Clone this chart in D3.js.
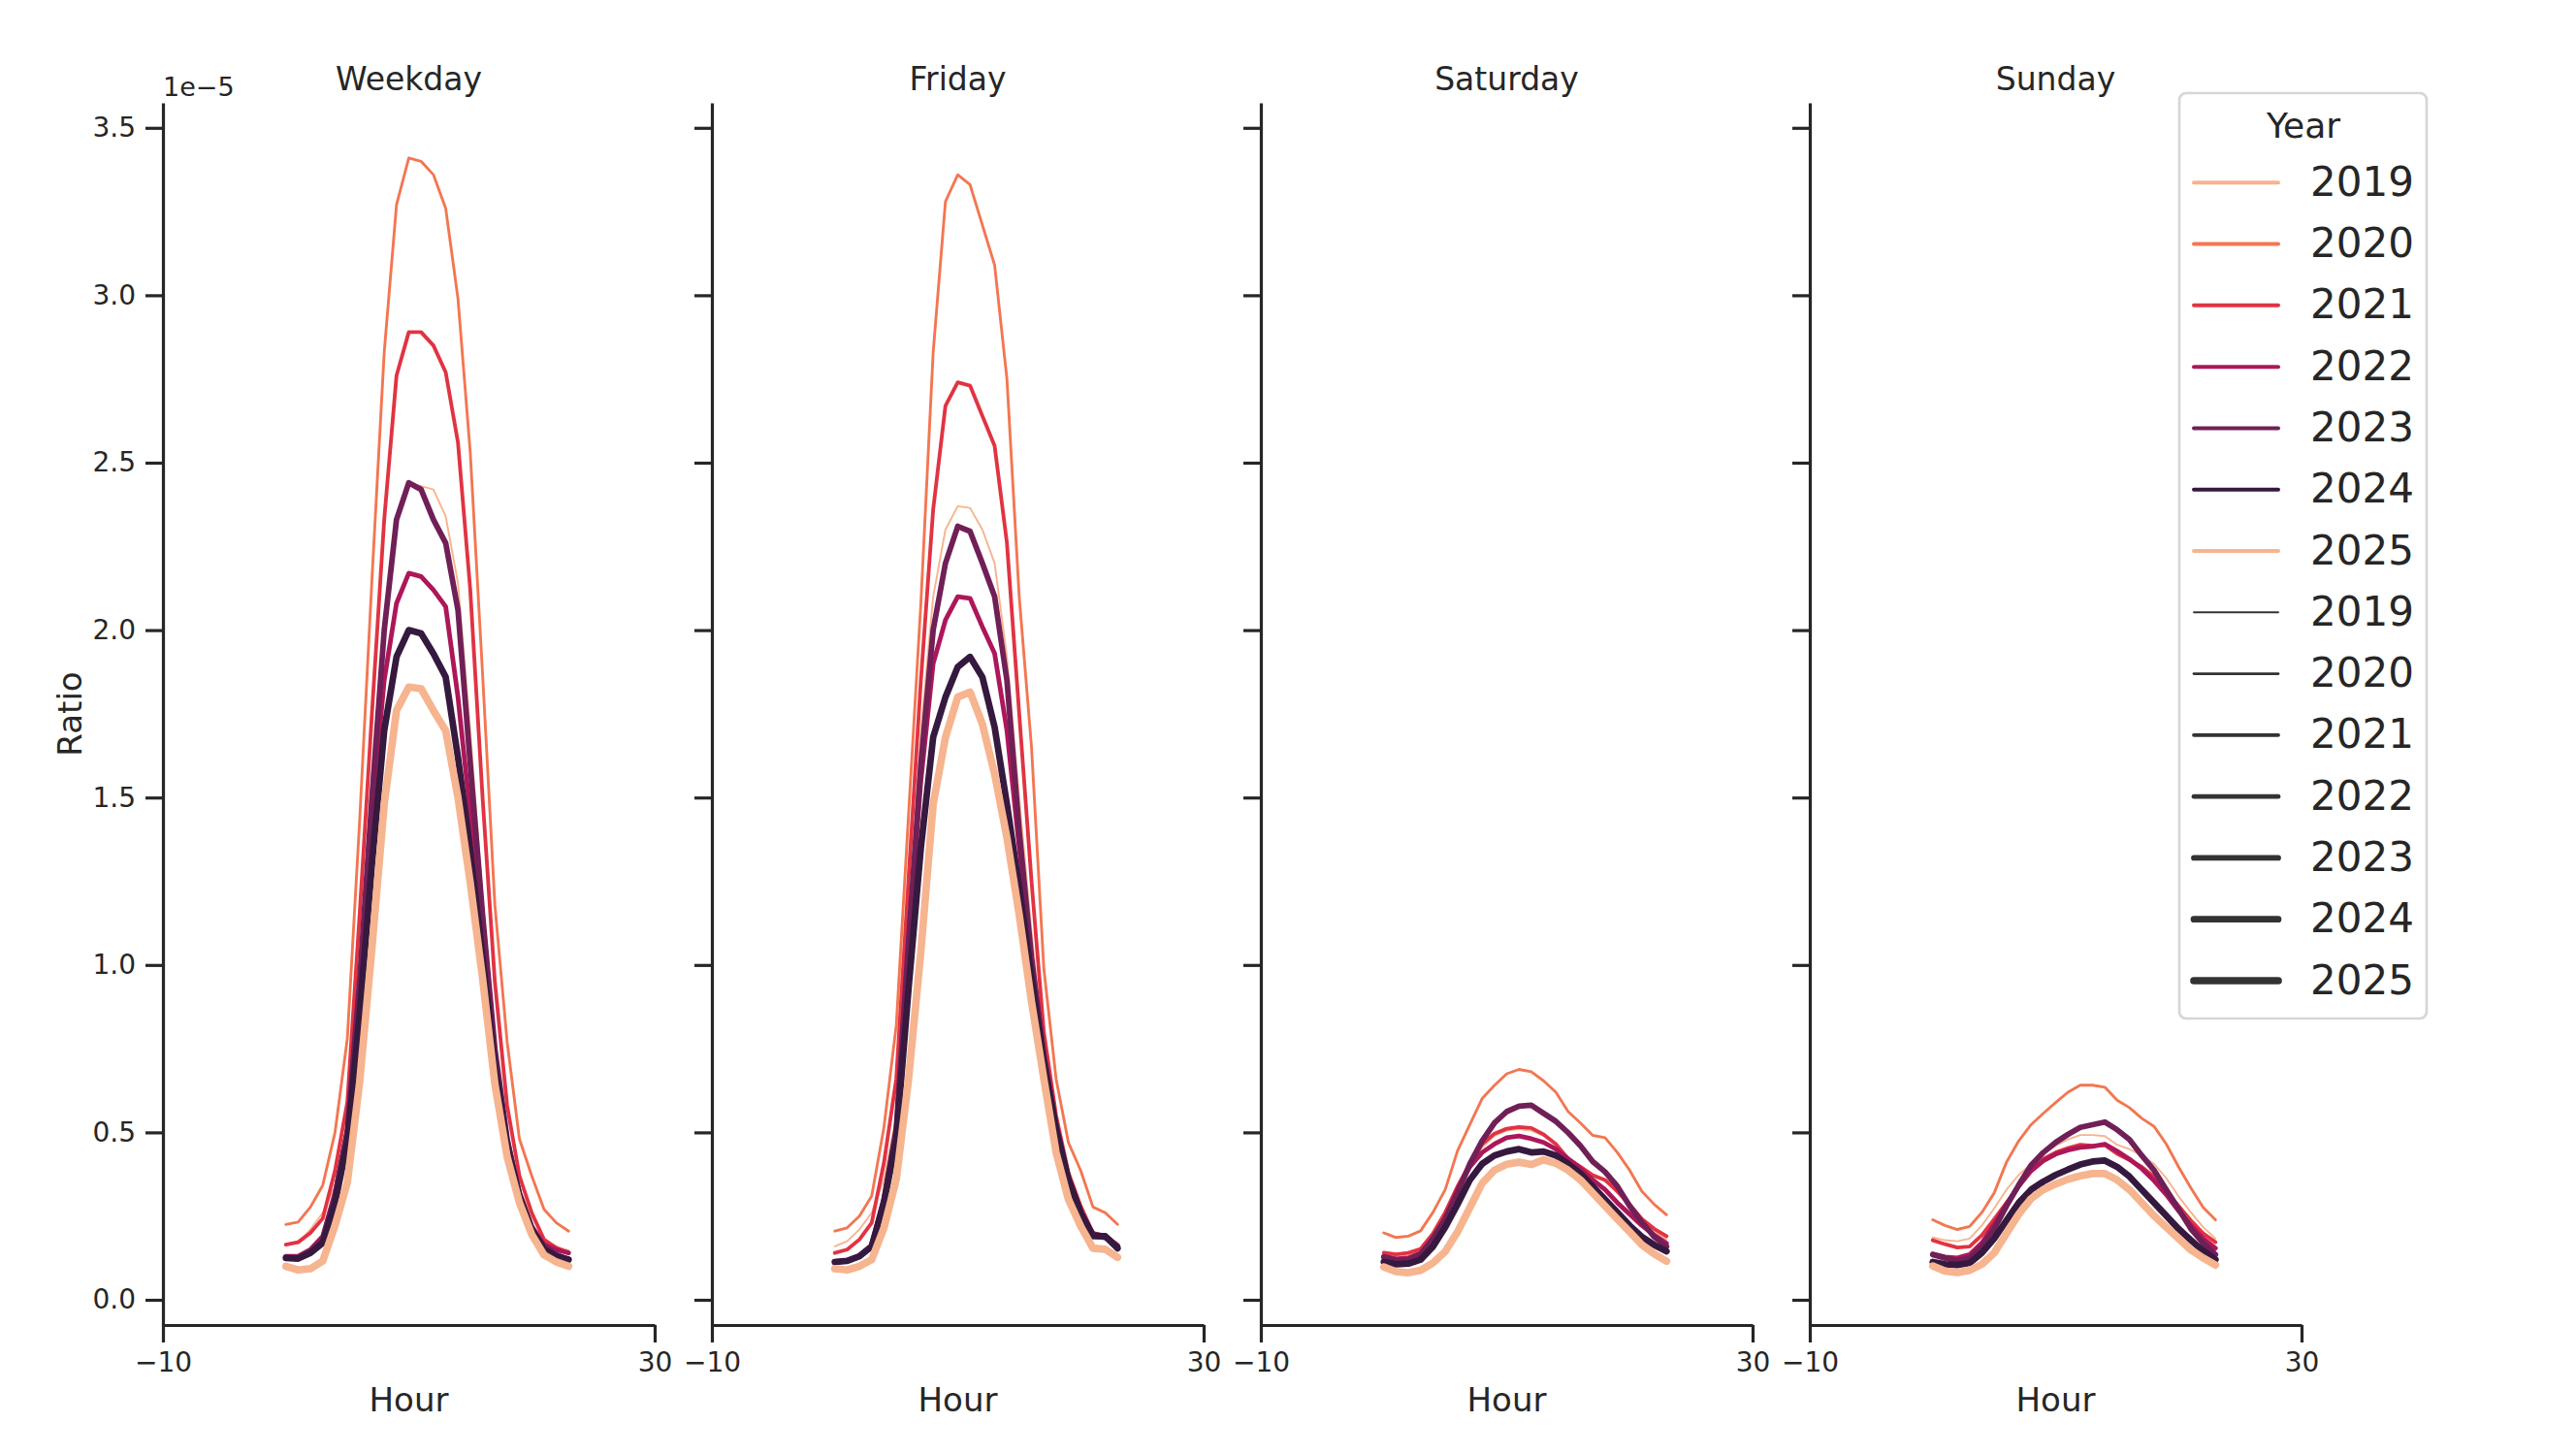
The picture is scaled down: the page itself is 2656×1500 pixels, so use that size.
<!DOCTYPE html>
<html>
<head>
<meta charset="utf-8">
<script src="https://cdn.jsdelivr.net/npm/d3@7"></script>
<style>
  * { margin: 0; padding: 0; }
  body { background: #fff; }
  svg { display: block; font-family: "DejaVu Sans", sans-serif; }
</style>
</head>
<body>
<svg id="chart" width="2656" height="1500"></svg>
<script>
// values are in units of 1e-5
var panels = ["Weekday", "Friday", "Saturday", "Sunday"];
var years = [2019, 2020, 2021, 2022, 2023, 2024, 2025];
var hours = [0, 1, 2, 3, 4, 5, 6, 7, 8, 9, 10, 11, 12, 13, 14, 15, 16, 17, 18, 19, 20, 21, 22, 23];
var yTicks = [0, 0.5, 1, 1.5, 2, 2.5, 3, 3.5];
var xTicks = [-10, 30];

var weekdayRatio = [
  [0.165, 0.17, 0.21, 0.26, 0.34, 0.53, 0.95, 1.50, 2.00, 2.33, 2.44, 2.43, 2.42, 2.34, 2.14, 1.70, 1.20, 0.78, 0.50, 0.33, 0.25, 0.18, 0.16, 0.147],
  [0.225, 0.232, 0.277, 0.342, 0.50, 0.78, 1.43, 2.15, 2.83, 3.27, 3.41, 3.40, 3.36, 3.26, 2.99, 2.53, 1.87, 1.18, 0.77, 0.48, 0.37, 0.27, 0.23, 0.205],
  [0.165, 0.172, 0.20, 0.243, 0.386, 0.59, 1.15, 1.75, 2.33, 2.76, 2.89, 2.89, 2.85, 2.77, 2.56, 2.12, 1.50, 0.95, 0.58, 0.37, 0.26, 0.18, 0.155, 0.14],
  [0.13, 0.13, 0.15, 0.19, 0.32, 0.51, 0.95, 1.45, 1.85, 2.08, 2.17, 2.16, 2.12, 2.07, 1.80, 1.45, 1.10, 0.74, 0.48, 0.32, 0.22, 0.165, 0.15, 0.14],
  [0.125, 0.125, 0.145, 0.18, 0.31, 0.50, 0.95, 1.50, 2.00, 2.33, 2.44, 2.42, 2.33, 2.26, 2.06, 1.60, 1.15, 0.75, 0.48, 0.31, 0.21, 0.16, 0.135, 0.12],
  [0.125, 0.123, 0.14, 0.17, 0.29, 0.47, 0.85, 1.30, 1.70, 1.92, 2.00, 1.99, 1.93, 1.86, 1.62, 1.34, 1.02, 0.70, 0.46, 0.31, 0.21, 0.15, 0.13, 0.12],
  [0.10, 0.089, 0.093, 0.116, 0.222, 0.35, 0.65, 1.05, 1.48, 1.76, 1.83, 1.825, 1.76, 1.70, 1.50, 1.245, 0.96, 0.645, 0.427, 0.29, 0.195, 0.134, 0.113, 0.10]
];

var fridayRatio = [
  [0.16, 0.175, 0.21, 0.26, 0.36, 0.55, 1.10, 1.70, 2.10, 2.30, 2.37, 2.365, 2.30, 2.20, 1.92, 1.50, 1.10, 0.75, 0.52, 0.36, 0.26, 0.19, 0.18, 0.155],
  [0.205, 0.215, 0.25, 0.31, 0.516, 0.82, 1.45, 2.08, 2.83, 3.28, 3.36, 3.33, 3.21, 3.09, 2.75, 2.10, 1.65, 0.99, 0.66, 0.47, 0.386, 0.277, 0.26, 0.225],
  [0.14, 0.15, 0.18, 0.23, 0.41, 0.66, 1.26, 1.85, 2.36, 2.67, 2.74, 2.73, 2.64, 2.55, 2.26, 1.75, 1.25, 0.80, 0.55, 0.38, 0.28, 0.20, 0.19, 0.165],
  [0.113, 0.116, 0.13, 0.16, 0.30, 0.51, 1.07, 1.55, 1.90, 2.03, 2.10, 2.095, 2.01, 1.93, 1.70, 1.35, 1.02, 0.74, 0.52, 0.36, 0.26, 0.19, 0.185, 0.155],
  [0.113, 0.116, 0.13, 0.16, 0.30, 0.51, 1.07, 1.60, 2.00, 2.20, 2.31, 2.295, 2.20, 2.10, 1.85, 1.40, 1.02, 0.73, 0.52, 0.36, 0.26, 0.195, 0.19, 0.16],
  [0.113, 0.116, 0.13, 0.16, 0.29, 0.48, 0.93, 1.35, 1.68, 1.80, 1.89, 1.92, 1.86, 1.71, 1.48, 1.23, 0.96, 0.71, 0.51, 0.36, 0.26, 0.19, 0.19, 0.154],
  [0.093, 0.089, 0.10, 0.12, 0.215, 0.36, 0.66, 1.04, 1.48, 1.68, 1.80, 1.815, 1.72, 1.57, 1.38, 1.15, 0.89, 0.66, 0.44, 0.30, 0.22, 0.154, 0.151, 0.127]
];

var saturdayRatio = [
  [0.14, 0.13, 0.132, 0.145, 0.19, 0.25, 0.33, 0.40, 0.455, 0.49, 0.505, 0.51, 0.505, 0.49, 0.465, 0.425, 0.40, 0.375, 0.355, 0.32, 0.28, 0.235, 0.205, 0.18],
  [0.20, 0.186, 0.19, 0.206, 0.261, 0.329, 0.445, 0.523, 0.601, 0.64, 0.675, 0.688, 0.681, 0.654, 0.62, 0.562, 0.528, 0.491, 0.484, 0.44, 0.387, 0.324, 0.285, 0.254],
  [0.141, 0.136, 0.14, 0.152, 0.198, 0.261, 0.339, 0.406, 0.465, 0.496, 0.511, 0.516, 0.513, 0.494, 0.465, 0.421, 0.397, 0.372, 0.358, 0.324, 0.285, 0.241, 0.212, 0.19],
  [0.13, 0.122, 0.125, 0.14, 0.183, 0.245, 0.329, 0.397, 0.44, 0.465, 0.484, 0.489, 0.481, 0.47, 0.45, 0.421, 0.392, 0.358, 0.329, 0.29, 0.256, 0.222, 0.193, 0.169],
  [0.128, 0.118, 0.12, 0.135, 0.183, 0.241, 0.319, 0.406, 0.475, 0.528, 0.562, 0.578, 0.581, 0.557, 0.533, 0.499, 0.46, 0.413, 0.382, 0.339, 0.28, 0.232, 0.188, 0.159],
  [0.113, 0.106, 0.108, 0.12, 0.159, 0.217, 0.285, 0.358, 0.406, 0.431, 0.443, 0.45, 0.44, 0.443, 0.431, 0.406, 0.377, 0.339, 0.30, 0.261, 0.222, 0.188, 0.164, 0.145],
  [0.098, 0.084, 0.081, 0.088, 0.11, 0.144, 0.203, 0.275, 0.348, 0.387, 0.405, 0.411, 0.404, 0.418, 0.408, 0.387, 0.358, 0.319, 0.28, 0.241, 0.203, 0.164, 0.137, 0.115]
];

var sundayRatio = [
  [0.186, 0.178, 0.175, 0.183, 0.222, 0.273, 0.329, 0.373, 0.406, 0.436, 0.46, 0.479, 0.492, 0.492, 0.489, 0.463, 0.45, 0.431, 0.406, 0.363, 0.309, 0.261, 0.217, 0.183],
  [0.239, 0.222, 0.21, 0.219, 0.261, 0.319, 0.411, 0.475, 0.523, 0.557, 0.589, 0.62, 0.641, 0.641, 0.635, 0.596, 0.574, 0.542, 0.518, 0.465, 0.397, 0.334, 0.276, 0.239],
  [0.178, 0.166, 0.156, 0.159, 0.193, 0.241, 0.29, 0.339, 0.387, 0.421, 0.44, 0.453, 0.463, 0.46, 0.462, 0.436, 0.418, 0.397, 0.368, 0.324, 0.28, 0.237, 0.198, 0.172],
  [0.137, 0.128, 0.125, 0.135, 0.17, 0.225, 0.285, 0.34, 0.385, 0.415, 0.435, 0.447, 0.455, 0.458, 0.465, 0.444, 0.42, 0.392, 0.356, 0.314, 0.266, 0.222, 0.183, 0.154],
  [0.135, 0.125, 0.117, 0.125, 0.159, 0.212, 0.28, 0.343, 0.402, 0.44, 0.47, 0.494, 0.515, 0.523, 0.531, 0.508, 0.479, 0.431, 0.387, 0.329, 0.271, 0.212, 0.169, 0.135],
  [0.113, 0.106, 0.104, 0.11, 0.14, 0.183, 0.237, 0.29, 0.329, 0.353, 0.373, 0.389, 0.404, 0.413, 0.416, 0.397, 0.368, 0.329, 0.29, 0.251, 0.212, 0.178, 0.146, 0.12],
  [0.101, 0.086, 0.081, 0.088, 0.106, 0.14, 0.198, 0.256, 0.302, 0.329, 0.346, 0.36, 0.37, 0.377, 0.377, 0.358, 0.329, 0.29, 0.251, 0.217, 0.183, 0.149, 0.125, 0.104]
];

var panelData = [weekdayRatio, fridayRatio, saturdayRatio, sundayRatio];
var yearColors = ["#f6b48f", "#f37651", "#e13342", "#ad1759", "#701f57", "#35193e", "#f6b48f"];

var svg = d3.select("#chart");
var ink = "#262626";
var panelLeft = [168, 734, 1300, 1866];
var panelW = 507;
var plotTop = 106, plotBottom = 1366;

var x = d3.scaleLinear().domain([-10, 30]).range([0, panelW]);
var y = d3.scaleLinear().domain([-0.0753, 3.5747]).range([plotBottom, plotTop]);
var width = d3.scaleLinear().domain([2019, 2025]).range([1.9, 7.7]);

var line = d3.line()
  .x(function (d) { return x(d.h); })
  .y(function (d) { return y(d.v); });

panels.forEach(function (name, p) {
  var g = svg.append("g").attr("transform", "translate(" + panelLeft[p] + ",0)");

  // lines, drawn in year order so 2025 ends on top
  years.forEach(function (yr, i) {
    var pts = hours.map(function (h, k) { return { h: h, v: panelData[p][i][k] }; });
    g.append("path")
      .attr("d", line(pts))
      .attr("fill", "none")
      .attr("stroke", yearColors[i])
      .attr("stroke-width", width(yr))
      .attr("stroke-linejoin", "round")
      .attr("stroke-linecap", "round");
  });

  var yAxis = g.append("g")
    .call(d3.axisLeft(y).tickValues(yTicks).tickSize(18).tickSizeOuter(0).tickPadding(10)
      .tickFormat(p == 0 ? d3.format(".1f") : function () { return ""; }));
  var xAxis = g.append("g")
    .attr("transform", "translate(0," + plotBottom + ")")
    .call(d3.axisBottom(x).tickValues(xTicks).tickSize(18).tickSizeOuter(0).tickPadding(10)
      .tickFormat(function (d) { return d < 0 ? "\u2212" + Math.abs(d) : d; }));

  [yAxis, xAxis].forEach(function (a) {
    a.select(".domain").attr("stroke", ink).attr("stroke-width", 3.2);
    a.selectAll(".tick line").attr("stroke", ink).attr("stroke-width", 3.2);
    a.selectAll(".tick text").attr("fill", ink)
      .style("font-size", "28px").style("font-family", "DejaVu Sans");
  });

  g.append("text")
    .attr("x", panelW / 2).attr("y", 93)
    .attr("text-anchor", "middle")
    .attr("fill", ink)
    .style("font-size", "33px")
    .text(name);

  g.append("text")
    .attr("x", panelW / 2).attr("y", 1455)
    .attr("text-anchor", "middle")
    .attr("fill", ink)
    .style("font-size", "34px")
    .text("Hour");
});

svg.append("text")
  .attr("x", panelLeft[0]).attr("y", 99)
  .attr("fill", ink)
  .style("font-size", "27px")
  .text("1e\u22125");

svg.append("text")
  .attr("transform", "translate(72," + (plotTop + plotBottom) / 2 + ") rotate(-90)")
  .attr("text-anchor", "middle")
  .attr("dominant-baseline", "central")
  .attr("fill", ink)
  .style("font-size", "34px")
  .text("Ratio");

// legend: hue entries then size entries
var legend = svg.append("g");
legend.append("rect")
  .attr("x", 2247).attr("y", 96)
  .attr("width", 255).attr("height", 954)
  .attr("rx", 7)
  .attr("fill", "#fff").attr("fill-opacity", 0.8)
  .attr("stroke", "#d6d6d6").attr("stroke-width", 2.7);

legend.append("text")
  .attr("x", 2375).attr("y", 142)
  .attr("text-anchor", "middle")
  .attr("fill", ink)
  .style("font-size", "36px")
  .text("Year");

var entries = years.map(function (yr, i) { return { label: yr, color: yearColors[i], w: 4 }; })
  .concat(years.map(function (yr) { return { label: yr, color: "#333333", w: width(yr) }; }));

var rowY = d3.scaleLinear().domain([0, 13]).range([188.3, 1011]);

entries.forEach(function (e, i) {
  legend.append("line")
    .attr("x1", 2262).attr("x2", 2349)
    .attr("y1", rowY(i)).attr("y2", rowY(i))
    .attr("stroke", e.color)
    .attr("stroke-width", e.w)
    .attr("stroke-linecap", "round");
  legend.append("text")
    .attr("x", 2382).attr("y", rowY(i) - 1)
    .attr("dominant-baseline", "central")
    .attr("fill", ink)
    .style("font-size", "42px")
    .text(e.label);
});
</script>
</body>
</html>
